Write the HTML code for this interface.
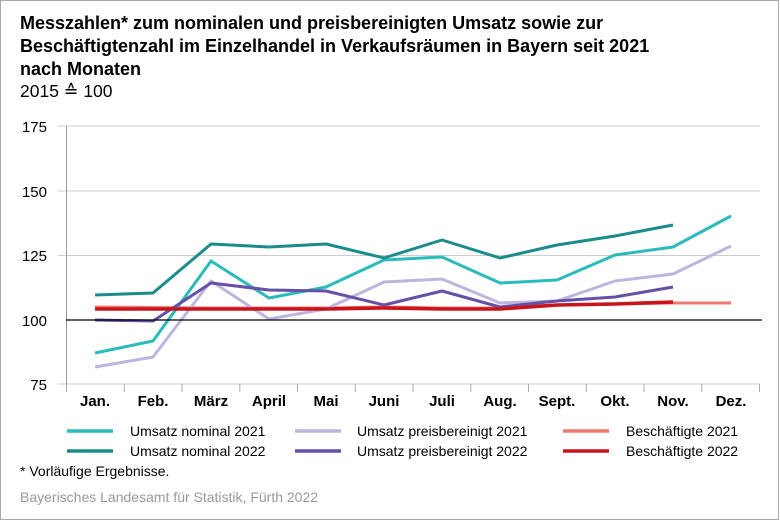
<!DOCTYPE html>
<html><head><meta charset="utf-8"><style>
body{margin:0;width:780px;height:521px;overflow:hidden;background:#fff;font-family:"Liberation Sans",sans-serif}
</style></head><body>
<svg width="780" height="521" xmlns="http://www.w3.org/2000/svg" font-family="Liberation Sans, sans-serif">
<rect x="0.5" y="0.5" width="778" height="519" fill="#fff" stroke="#aaa"/>
<g font-weight="bold" font-size="18" fill="#000">
<text x="20" y="29">Messzahlen* zum nominalen und preisbereinigten Umsatz sowie zur</text>
<text x="20" y="52">Beschäftigtenzahl im Einzelhandel in Verkaufsräumen in Bayern seit 2021</text>
<text x="20" y="75">nach Monaten</text>
</g>
<text x="20" y="97" font-size="17.5">2015 ≙ 100</text>
<g stroke="#ccc" stroke-width="1">
<line x1="58" y1="126" x2="760" y2="126"/><line x1="58" y1="191" x2="760" y2="191"/>
<line x1="58" y1="255.5" x2="760" y2="255.5"/><line x1="58" y1="384" x2="760" y2="384"/>
</g>
<line x1="66.5" y1="126" x2="66.5" y2="384" stroke="#999"/>
<g stroke="#aaa">
<line x1="66.5" y1="384" x2="66.5" y2="392"/><line x1="124.3" y1="384" x2="124.3" y2="392"/><line x1="182" y1="384" x2="182" y2="392"/><line x1="239.8" y1="384" x2="239.8" y2="392"/><line x1="297.5" y1="384" x2="297.5" y2="392"/><line x1="355.3" y1="384" x2="355.3" y2="392"/><line x1="413" y1="384" x2="413" y2="392"/><line x1="470.8" y1="384" x2="470.8" y2="392"/><line x1="528.5" y1="384" x2="528.5" y2="392"/><line x1="586.3" y1="384" x2="586.3" y2="392"/><line x1="644" y1="384" x2="644" y2="392"/><line x1="701.8" y1="384" x2="701.8" y2="392"/><line x1="759.5" y1="384" x2="759.5" y2="392"/>
</g>
<g font-size="15" text-anchor="end">
<text x="47" y="132">175</text><text x="47" y="197">150</text><text x="47" y="261">125</text><text x="47" y="326">100</text><text x="47" y="390">75</text>
</g>
<g font-size="15" font-weight="bold" text-anchor="middle">
<text x="95" y="406">Jan.</text><text x="153" y="406">Feb.</text><text x="211" y="406">März</text><text x="269" y="406">April</text><text x="326" y="406">Mai</text><text x="384" y="406">Juni</text><text x="442" y="406">Juli</text><text x="500" y="406">Aug.</text><text x="557" y="406">Sept.</text><text x="615" y="406">Okt.</text><text x="673" y="406">Nov.</text><text x="731" y="406">Dez.</text>
</g>
<g fill="none" stroke-width="3" stroke-linejoin="round">
<polyline stroke="#F07870" points="95,307 153,307.5 211,308 269,308 326,308 384,307 442,308 500,308 557,305 615,304 673,303 731,303"/>
<polyline stroke="#BDB5DD" points="95,367 153,357 211,281 269,319 326,309 384,282 442,279 500,303 557,301 615,281 673,274 731,246"/>
<polyline stroke="#2ABBBB" points="95,353 153,341 211,261 269,298 326,287 384,260 442,257 500,283 557,280 615,255 673,247 731,216"/>
<polyline stroke="#1A8C8A" points="95,295 153,293 211,244 269,247 326,244 384,258 442,240 500,258 557,245 615,236 673,225"/>
<polyline stroke="#6650A8" points="95,320 153,321 211,283 269,290 326,291 384,305 442,291 500,307 557,301 615,297 673,287"/>
<polyline stroke="#C8151B" stroke-width="3.5" points="95,309 153,309 211,309 269,309 326,309 384,308 442,309 500,309 557,305 615,304 673,302"/>
</g>
<line x1="66" y1="320" x2="762" y2="320" stroke="#000" stroke-width="1.3"/>
<g stroke-width="3.5">
<line x1="67" y1="431" x2="113" y2="431" stroke="#2ABBBB"/><line x1="67" y1="451" x2="113" y2="451" stroke="#1A8C8A"/>
<line x1="295" y1="431" x2="341" y2="431" stroke="#BDB5DD"/><line x1="295" y1="451" x2="341" y2="451" stroke="#6650A8"/>
<line x1="563" y1="431" x2="609" y2="431" stroke="#F07870"/><line x1="563" y1="451" x2="609" y2="451" stroke="#C8151B"/>
</g>
<g font-size="14">
<text x="130" y="436">Umsatz nominal 2021</text><text x="130" y="456">Umsatz nominal 2022</text>
<text x="357" y="436">Umsatz preisbereinigt 2021</text><text x="357" y="456">Umsatz preisbereinigt 2022</text>
<text x="626" y="436">Beschäftigte 2021</text><text x="626" y="456">Beschäftigte 2022</text>
<text x="20" y="476">*  Vorläufige Ergebnisse.</text>
</g>
<text x="20" y="502" font-size="14" fill="#999">Bayerisches Landesamt für Statistik, Fürth 2022</text>
</svg>
</body></html>
